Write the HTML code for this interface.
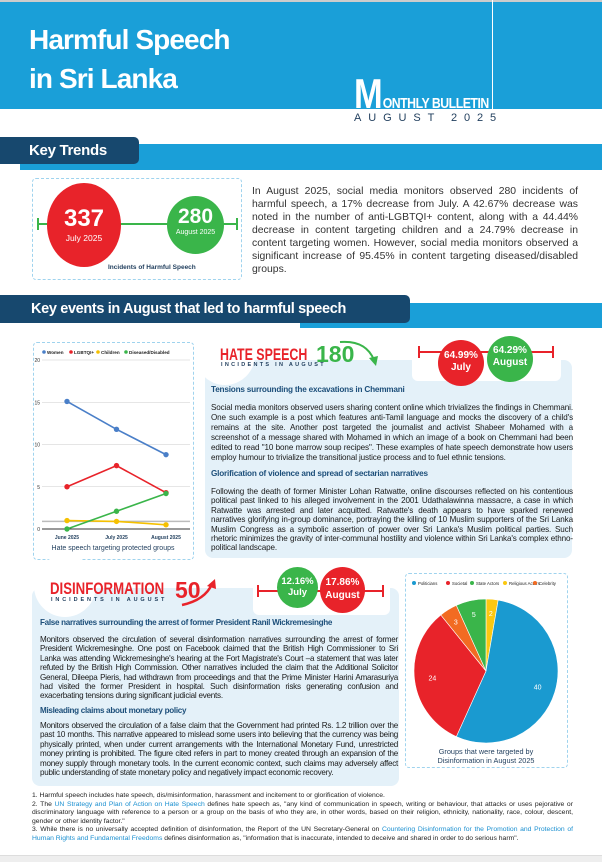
<!DOCTYPE html>
<html><head><meta charset="utf-8">
<style>
*{margin:0;padding:0;box-sizing:border-box}
body{width:602px;height:862px;position:relative;background:#fff;font-family:"Liberation Sans",sans-serif;overflow:hidden}
.a{position:absolute}
.j{text-align:justify;color:#1a1a1a}
.h{color:#1d4f7a;font-weight:bold}
.c{border-radius:50%;color:#fff;text-align:center;font-weight:bold;position:absolute}
.lnk{color:#1a8fd0}
</style></head><body>
<div class="a" style="left:0;top:0;width:602px;height:2px;background:#ccc"></div>
<div class="a" style="left:0;top:2px;width:602px;height:107px;background:#1a9fd8"></div>
<div class="a" style="left:492px;top:0;width:1px;height:109px;background:#fff"></div>
<div class="a" style="left:29px;top:20px;color:#fff;font-weight:bold;font-size:28px;line-height:39px;letter-spacing:-0.9px">Harmful Speech<br>in Sri Lanka</div>
<div class="a" style="left:354px;top:73px;color:#fff;font-weight:bold;white-space:nowrap;line-height:1;transform:scaleX(0.82);transform-origin:left top"><span style="font-size:42px">M</span><span style="font-size:15px;letter-spacing:-0.6px">ONTHLY BULLETIN</span></div>
<div class="a" style="left:354px;top:112px;color:#1f3d5c;font-size:11px;letter-spacing:6.9px;white-space:nowrap">AUGUST 2025</div>

<div class="a" style="left:20px;top:144px;width:582px;height:26px;background:#1a9fd8"></div>
<div class="a" style="left:0;top:137px;width:139px;height:27px;background:#17486e;border-radius:0 5px 5px 0;color:#fff;font-weight:bold;font-size:15px;line-height:27px;padding-left:29px;letter-spacing:-0.3px">Key Trends</div>

<div class="a" style="left:32px;top:178px;width:210px;height:102px;border:1px dashed #9fd3ee;border-radius:4px"></div>
<div class="a" style="left:37px;top:223px;width:200px;height:2px;background:#3ab54a"></div>
<div class="a" style="left:37px;top:218px;width:2px;height:12px;background:#3ab54a"></div>
<div class="a" style="left:236px;top:218px;width:2px;height:12px;background:#3ab54a"></div>
<div class="c" style="left:47px;top:183px;width:74px;height:84px;background:#e8232a"><div style="font-size:24px;margin-top:22px">337</div><div style="font-size:8.5px;font-weight:normal">July 2025</div></div>
<div class="c" style="left:167px;top:196px;width:57px;height:58px;background:#3ab54a"><div style="font-size:21px;margin-top:9px">280</div><div style="font-size:7px;font-weight:normal">August 2025</div></div>
<div class="a" style="left:108px;top:264px;font-size:6.5px;font-weight:bold;color:#1f3d5c">Incidents of Harmful Speech</div>
<div class="a j" style="left:252px;top:185px;width:326px;font-size:10.4px;line-height:13px;color:#333">In August 2025, social media monitors observed 280 incidents of harmful speech, a 17% decrease from July. A 42.67% decrease was noted in the number of anti-LGBTQI+ content, along with a 44.44% decrease in content targeting children and a 24.79% decrease in content targeting women. However, social media monitors observed a significant increase of 95.45% in content targeting diseased/disabled groups.</div>

<div class="a" style="left:300px;top:303px;width:302px;height:25px;background:#1a9fd8"></div>
<div class="a" style="left:0;top:295px;width:410px;height:28px;background:#17486e;border-radius:0 5px 5px 0;color:#fff;font-weight:bold;font-size:14.5px;line-height:28px;padding-left:31px;letter-spacing:-0.35px">Key events in August that led to harmful speech</div>

<!-- hate speech panel -->
<div class="a" style="left:205px;top:360px;width:367px;height:198px;background:#e4f1f9;border-radius:8px"></div>
<div class="a" style="left:195px;top:325px;width:60px;height:60px;background:#fff;border-radius:50%"></div>
<div class="a" style="left:220px;top:346px;color:#e8232a;font-weight:bold;font-size:17px;line-height:1;transform:scaleX(0.73);transform-origin:left top;white-space:nowrap">HATE SPEECH</div>
<div class="a" style="left:221px;top:362px;color:#1f3d5c;font-weight:bold;font-size:5.5px;letter-spacing:2.3px">INCIDENTS IN AUGUST</div>
<div class="a" style="left:316px;top:343px;color:#3ab54a;font-weight:bold;font-size:23px;line-height:1">180</div>
<svg class="a" style="left:336px;top:338px" width="45" height="32"><path d="M4 4 Q30 2 38 22" stroke="#3ab54a" stroke-width="2" fill="none"/><path d="M33 20 L40 28 L42 18 Z" fill="#3ab54a"/></svg>
<div class="a" style="left:412px;top:337px;width:149px;height:44px;background:#fff;border-radius:6px"></div>
<div class="a" style="left:418px;top:351px;width:135px;height:2px;background:#e8232a"></div>
<div class="a" style="left:418px;top:346px;width:2px;height:12px;background:#e8232a"></div>
<div class="a" style="left:552px;top:346px;width:2px;height:12px;background:#e8232a"></div>
<div class="c" style="left:438px;top:340px;width:46px;height:46px;background:#e8232a;font-size:10px;line-height:12px;padding-top:10px">64.99%<br>July</div>
<div class="c" style="left:487px;top:336px;width:46px;height:46px;background:#3ab54a;font-size:10px;line-height:12px;padding-top:9px">64.29%<br>August</div>
<div class="a h" style="left:211px;top:385px;font-size:8.2px;letter-spacing:-0.2px">Tensions surrounding the excavations in Chemmani</div>
<div class="a j" style="left:211px;top:403px;width:362px;font-size:8.1px;line-height:10px;letter-spacing:-0.12px">Social media monitors observed users sharing content online which trivializes the findings in Chemmani. One such example is a post which features anti-Tamil language and mocks the discovery of a child's remains at the site. Another post targeted the journalist and activist Shabeer Mohamed with a screenshot of a message shared with Mohamed in which an image of a book on Chemmani had been edited to read "10 bone marrow soup recipes". These examples of hate speech demonstrate how users employ humour to trivialize the transitional justice process and to fuel ethnic tensions.</div>
<div class="a h" style="left:211px;top:469px;font-size:8.2px;letter-spacing:-0.2px">Glorification of violence and spread of sectarian narratives</div>
<div class="a j" style="left:211px;top:487px;width:362px;font-size:8.1px;line-height:9.4px;letter-spacing:-0.12px">Following the death of former Minister Lohan Ratwatte, online discourses reflected on his contentious political past linked to his alleged involvement in the 2001 Udathalawinna massacre, a case in which Ratwatte was arrested and later acquitted. Ratwatte's death appears to have sparked renewed narratives glorifying in-group dominance, portraying the killing of 10 Muslim supporters of the Sri Lanka Muslim Congress as a symbolic assertion of power over Sri Lanka's Muslim political parties. Such rhetoric minimizes the gravity of inter-communal hostility and violence within Sri Lanka's complex ethno-political landscape.</div>

<!-- line chart -->
<div class="a" style="left:33px;top:342px;width:161px;height:218px;border:1px dashed #9fd3ee;border-radius:4px"></div>
<svg id="lc" class="a" style="left:0;top:0" width="200" height="562"></svg>

<!-- disinformation panel -->
<div class="a" style="left:32px;top:588px;width:367px;height:198px;background:#e4f1f9;border-radius:8px"></div>
<div class="a" style="left:34px;top:555px;width:62px;height:62px;background:#fff;border-radius:50%"></div>
<div class="a" style="left:50px;top:581px;color:#e8232a;font-weight:bold;font-size:16.5px;line-height:1;transform:scaleX(0.8);transform-origin:left top;white-space:nowrap">DISINFORMATION</div>
<div class="a" style="left:51px;top:597px;color:#1f3d5c;font-weight:bold;font-size:5.5px;letter-spacing:2.9px">INCIDENTS IN AUGUST</div>
<div class="a" style="left:175px;top:579px;color:#e8232a;font-weight:bold;font-size:23px;line-height:1">50</div>
<svg class="a" style="left:180px;top:578px" width="40" height="30"><path d="M2 27 Q25 22 32 6" stroke="#e8232a" stroke-width="2.5" fill="none"/><path d="M27 8 L35 1 L36 11 Z" fill="#e8232a"/></svg>
<div class="a" style="left:253px;top:566px;width:137px;height:49px;background:#fff;border-radius:6px"></div>
<div class="a" style="left:258px;top:590px;width:125px;height:2px;background:#e8232a"></div>
<div class="a" style="left:257px;top:585px;width:2px;height:12px;background:#e8232a"></div>
<div class="a" style="left:382px;top:585px;width:2px;height:12px;background:#e8232a"></div>
<div class="c" style="left:277px;top:567px;width:41px;height:41px;background:#3ab54a;font-size:9.5px;line-height:11px;padding-top:9px">12.16%<br>July</div>
<div class="c" style="left:320px;top:567px;width:45px;height:46px;background:#e8232a;font-size:10px;line-height:13px;padding-top:9px">17.86%<br>August</div>
<div class="a h" style="left:40px;top:618px;font-size:8.1px;letter-spacing:-0.3px">False narratives surrounding the arrest of former President Ranil Wickremesinghe</div>
<div class="a j" style="left:40px;top:635px;width:358px;font-size:8.1px;line-height:9.4px;letter-spacing:-0.25px">Monitors observed the circulation of several disinformation narratives surrounding the arrest of former President Wickremesinghe. One post on Facebook claimed that the British High Commissioner to Sri Lanka was attending Wickremesinghe's hearing at the Fort Magistrate's Court –a statement that was later refuted by the British High Commission. Other narratives included the claim that the Additional Solicitor General, Dileepa Pieris, had withdrawn from proceedings and that the Prime Minister Harini Amarasuriya had visited the former President in hospital. Such disinformation risks generating confusion and exacerbating tensions during significant judicial events.</div>
<div class="a h" style="left:40px;top:706px;font-size:8.1px;letter-spacing:-0.3px">Misleading claims about monetary policy</div>
<div class="a j" style="left:40px;top:721px;width:358px;font-size:8.1px;line-height:9.4px;letter-spacing:-0.25px">Monitors observed the circulation of a false claim that the Government had printed Rs. 1.2 trillion over the past 10 months. This narrative appeared to mislead some users into believing that the currency was being physically printed, when under current arrangements with the International Monetary Fund, unrestricted money printing is prohibited. The figure cited refers in part to money created through an expansion of the money supply through monetary tools. In the current economic context, such claims may adversely affect public understanding of state monetary policy and negatively impact economic recovery.</div>

<!-- pie -->
<div class="a" style="left:405px;top:573px;width:163px;height:195px;border:1px dashed #9fd3ee;border-radius:4px"></div>
<svg id="pc" class="a" style="left:400px;top:570px" width="180" height="200"></svg>

<!-- footnotes -->
<div class="a" style="left:32px;top:792px;width:541px;font-size:6.8px;line-height:8.6px;color:#222;text-align:justify">1. Harmful speech includes hate speech, dis/misinformation, harassment and incitement to or glorification of violence.<br>2. The <span class="lnk">UN Strategy and Plan of Action on Hate Speech</span> defines hate speech as, "any kind of communication in speech, writing or behaviour, that attacks or uses pejorative or discriminatory language with reference to a person or a group on the basis of who they are, in other words, based on their religion, ethnicity, nationality, race, colour, descent, gender or other identity factor."<br>3. While there is no universally accepted definition of disinformation, the Report of the UN Secretary-General on <span class="lnk">Countering Disinformation for the Promotion and Protection of Human Rights and Fundamental Freedoms</span> defines disinformation as, "information that is inaccurate, intended to deceive and shared in order to do serious harm".</div>
<div class="a" style="left:0;top:855px;width:602px;height:7px;background:#eee;border-top:1px solid #ddd"></div>

<script>
const months=["June 2025","July 2025","August 2025"];
const seriesNames=["Women","LGBTQI+","Children","Diseased/Disabled"];
const women=[15.1,11.8,8.8];
const lgbtqi=[5,7.5,4.3];
const children=[1,0.9,0.5];
const disabled=[0,2.1,4.2];
const yTicks=[0,5,10,15,20];
const pieLabels=["Religious Actors","Politicians","Societal","Celebrity","State Actors"];
const pieValues=[2,40,24,3,5];

const NS="http://www.w3.org/2000/svg";
function mk(svg,tag,attrs,txt){const e=document.createElementNS(NS,tag);for(const k in attrs)e.setAttribute(k,attrs[k]);if(txt!==undefined)e.textContent=txt;svg.appendChild(e);return e;}

// line chart
const lc=document.getElementById('lc');
const yS=v=>529-v*(169/20);
const xS=i=>67+i*49.5;
yTicks.forEach(t=>{
  const g=mk(lc,'line',{x1:42,x2:190,y1:yS(t),y2:yS(t),stroke:t===0?'#333':'#ccc','stroke-width':t===0?1:0.6});
  
  
  const l=mk(lc,'text',{x:40,y:yS(t)+2,'font-size':5,'text-anchor':'end',fill:'#333'},t);
  
  
});
const ref=mk(lc,'line',{x1:42,x2:190,y1:yS(0.9),y2:yS(0.9),stroke:'#bbb','stroke-width':1.5});


months.forEach((m,i)=>{
  const t=mk(lc,'text',{x:xS(i),y:539,'font-size':5,'font-weight':'bold','text-anchor':'middle',fill:'#1f3d5c'},m);
  
  
});
const cols=["#4a7fc8","#e8232a","#f5c000","#3ab54a"];
const data=[women,lgbtqi,children,disabled];
data.forEach((s,k)=>{
  let d='';
  s.forEach((v,i)=>{d+=(i?' L':'M')+xS(i)+' '+yS(v);});
  const p=mk(lc,'path',{d:d,stroke:cols[k],'stroke-width':1.6,fill:'none'});
  
  
  s.forEach((v,i)=>{
    const c=mk(lc,'circle',{cx:xS(i),cy:yS(v),r:2.7,fill:cols[k]});
    
    
  });
});
let lx=44;
seriesNames.forEach((n,k)=>{
  const c=mk(lc,'circle',{cx:lx,cy:352,r:1.8,fill:cols[k]});
  
  
  const t=mk(lc,'text',{x:lx+3,y:354,'font-size':4.6,'font-weight':'bold',fill:'#222'},n);
  
  
  lx+=[27,27,28,0][k];
});
const cap=mk(lc,'text',{x:113,y:550,'font-size':7,'text-anchor':'middle',fill:'#1f3d5c'},'Hate speech targeting protected groups');



// pie
const pc=document.getElementById('pc');
const pcol=["#fbc810","#1a9ad0","#e8232a","#f26b22","#3ab54a"];
const cx=86,cy=101,r=72;
const tot=pieValues.reduce((a,b)=>a+b,0);
let a0=0;
pieValues.forEach((v,i)=>{
  const a1=a0+v/tot*2*Math.PI;
  const p=(a)=>[cx+r*Math.sin(a),cy-r*Math.cos(a)];
  const [x0,y0]=p(a0),[x1,y1]=p(a1);
  const s=mk(pc,'path',{d:`M${cx} ${cy} L${x0} ${y0} A${r} ${r} 0 ${a1-a0>Math.PI?1:0} 1 ${x1} ${y1} Z`,fill:pcol[i],stroke:'#fff','stroke-width':0.6});
  
  
  const am=(a0+a1)/2,rr=r*(v<10?0.8:0.75);
  const t=mk(pc,'text',{x:cx+rr*Math.sin(am),y:cy-rr*Math.cos(am)+2.5,'font-size':7,'text-anchor':'middle',fill:'#fff'},v);
  
  
  a0=a1;
});
const legOrder=[1,2,4,0,3];
const legX=[14,48,72,105,135];
legOrder.forEach((idx,j)=>{
  const c=mk(pc,'circle',{cx:legX[j],cy:13,r:2,fill:pcol[idx]});
  
  
  const t=mk(pc,'text',{x:legX[j]+4,y:15,'font-size':4.3,fill:'#222'},pieLabels[idx]);
  
  
});
const c1=mk(pc,'text',{x:86,y:184,'font-size':7.3,'text-anchor':'middle',fill:'#1f3d5c'},'Groups that were targeted by');


const c2=mk(pc,'text',{x:86,y:193,'font-size':7.3,'text-anchor':'middle',fill:'#1f3d5c'},'Disinformation in August 2025');


</script>
</body></html>
